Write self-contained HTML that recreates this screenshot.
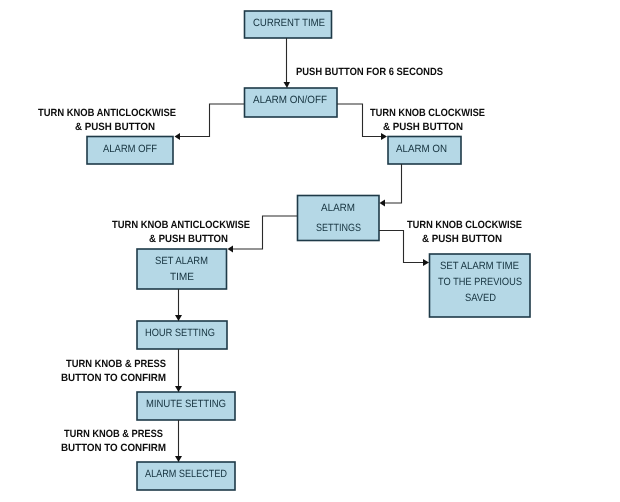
<!DOCTYPE html>
<html>
<head>
<meta charset="utf-8">
<style>
html,body{margin:0;padding:0;background:#fff}
svg{display:block}
text{font-family:"Liberation Sans",sans-serif;font-size:10.5px;fill:#16333f;text-anchor:start;text-rendering:geometricPrecision}
.b{font-weight:bold;fill:#0d0d0d;font-size:10.5px}
rect{fill:#b5d8e6;stroke:#1e3a48;stroke-width:1.6}
.l{fill:none;stroke:#2a2a2a;stroke-width:1.1}
.a{fill:#111;stroke:none}
</style>
</head>
<body>
<svg width="620" height="502" viewBox="0 0 620 502" xmlns="http://www.w3.org/2000/svg">
<g>
<rect x="244.5" y="11" width="87" height="27"/>
<rect x="244.5" y="88" width="92.500" height="29"/>
<rect x="87" y="136.500" width="86" height="27.500"/>
<rect x="388" y="136.500" width="73" height="27.500"/>
<rect x="297.500" y="195.500" width="81.500" height="45"/>
<rect x="137" y="249" width="89.500" height="40"/>
<rect x="137" y="321" width="90" height="28"/>
<rect x="137" y="392" width="98" height="28"/>
<rect x="137" y="462" width="98" height="28"/>
<rect x="429.500" y="254" width="100.500" height="63"/>

<path class="l" d="M286.500 38V83"/>
<polygon class="a" points="283.500,82 290,82 287,88"/>
<path class="l" d="M244 104H209.500V136.500H179"/>
<polygon class="a" points="174.500,136.500 180,133 180,140"/>
<path class="l" d="M337 104H362.500V136.500H382"/>
<polygon class="a" points="387,136.500 381,133 381,140"/>
<path class="l" d="M401.500 164V203H384"/>
<polygon class="a" points="379.500,203 385,199.500 385,206.500"/>
<path class="l" d="M297 216H262.500V249H232"/>
<polygon class="a" points="227.500,249 233,245.500 233,252.500"/>
<path class="l" d="M379 230.500H403.500V262.500H424"/>
<polygon class="a" points="429,262.500 423,259 423,266"/>
<path class="l" d="M178.500 289V316"/>
<polygon class="a" points="175,315 182,315 178.500,321"/>
<path class="l" d="M178.500 349V387"/>
<polygon class="a" points="175,386 182,386 178.500,392"/>
<path class="l" d="M178.500 420V457"/>
<polygon class="a" points="175,456 182,456 178.500,462"/>
</g>

<text x="253" y="26" textLength="72" lengthAdjust="spacingAndGlyphs">CURRENT TIME</text>
<text x="253" y="103" textLength="74" lengthAdjust="spacingAndGlyphs">ALARM ON/OFF</text>
<text x="103" y="152" textLength="54" lengthAdjust="spacingAndGlyphs">ALARM OFF</text>
<text x="396" y="152" textLength="51" lengthAdjust="spacingAndGlyphs">ALARM ON</text>
<text x="321" y="211" textLength="34" lengthAdjust="spacingAndGlyphs">ALARM</text>
<text x="316" y="231" textLength="45" lengthAdjust="spacingAndGlyphs">SETTINGS</text>
<text x="155" y="264" textLength="53" lengthAdjust="spacingAndGlyphs">SET ALARM</text>
<text x="170" y="280" textLength="24" lengthAdjust="spacingAndGlyphs">TIME</text>
<text x="145" y="336" textLength="70" lengthAdjust="spacingAndGlyphs">HOUR SETTING</text>
<text x="146" y="407" textLength="80" lengthAdjust="spacingAndGlyphs">MINUTE SETTING</text>
<text x="145" y="477" textLength="82" lengthAdjust="spacingAndGlyphs">ALARM SELECTED</text>
<text x="440" y="269" textLength="79" lengthAdjust="spacingAndGlyphs">SET ALARM TIME</text>
<text x="438" y="285" textLength="84" lengthAdjust="spacingAndGlyphs">TO THE PREVIOUS</text>
<text x="465" y="301" textLength="31" lengthAdjust="spacingAndGlyphs">SAVED</text>

<text class="b" x="296" y="75" textLength="147" lengthAdjust="spacingAndGlyphs">PUSH BUTTON FOR 6 SECONDS</text>
<text class="b" x="38" y="116" textLength="138" lengthAdjust="spacingAndGlyphs">TURN KNOB ANTICLOCKWISE</text>
<text class="b" x="75" y="130" textLength="80" lengthAdjust="spacingAndGlyphs">&amp; PUSH BUTTON</text>
<text class="b" x="370" y="116" textLength="115" lengthAdjust="spacingAndGlyphs">TURN KNOB CLOCKWISE</text>
<text class="b" x="383" y="130" textLength="80" lengthAdjust="spacingAndGlyphs">&amp; PUSH BUTTON</text>
<text class="b" x="112" y="228" textLength="138" lengthAdjust="spacingAndGlyphs">TURN KNOB ANTICLOCKWISE</text>
<text class="b" x="149" y="242" textLength="79" lengthAdjust="spacingAndGlyphs">&amp; PUSH BUTTON</text>
<text class="b" x="407" y="228" textLength="115" lengthAdjust="spacingAndGlyphs">TURN KNOB CLOCKWISE</text>
<text class="b" x="422" y="242" textLength="80" lengthAdjust="spacingAndGlyphs">&amp; PUSH BUTTON</text>
<text class="b" x="66" y="367" textLength="100" lengthAdjust="spacingAndGlyphs">TURN KNOB &amp; PRESS</text>
<text class="b" x="61" y="381" textLength="105" lengthAdjust="spacingAndGlyphs">BUTTON TO CONFIRM</text>
<text class="b" x="64" y="437" textLength="99" lengthAdjust="spacingAndGlyphs">TURN KNOB &amp; PRESS</text>
<text class="b" x="61" y="451" textLength="105" lengthAdjust="spacingAndGlyphs">BUTTON TO CONFIRM</text>
</svg>
</body>
</html>
